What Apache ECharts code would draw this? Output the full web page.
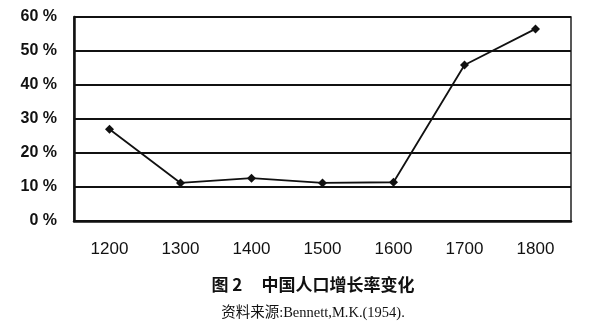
<!DOCTYPE html>
<html><head><meta charset="utf-8">
<script src="https://cdn.jsdelivr.net/npm/echarts@6/dist/echarts.min.js"></script>
<style>html,body{margin:0;padding:0;background:#fff}#c{width:600px;height:336px}</style>
</head><body><div id="c"></div>
<script>
var years = ['1200','1300','1400','1500','1600','1700','1800'];
var rates = [27, 11.2, 12.6, 11.2, 11.4, 45.9, 56.5];
var yTicks = [0,10,20,30,40,50,60];
var title = '图 2     中国人口增长率变化';
var source = '资料来源:Bennett,M.K.(1954).';

var chart = echarts.init(document.getElementById('c'));
chart.setOption({
  backgroundColor: '#fff',
  animation: false,
  graphic: [
    {type: 'text', x: 313, y: 285, style: {text: title, textAlign: 'center', textVerticalAlign: 'middle', fontFamily: 'Noto Sans CJK SC', fontSize: 17, fontWeight: 'bold', fill: '#111'}},
    {type: 'text', x: 313, y: 313, style: {text: source, textAlign: 'center', textVerticalAlign: 'middle', fontFamily: 'Liberation Serif, Noto Sans CJK SC', fontSize: 14.5, fill: '#111'}}
  ],
  grid: {left: 74, right: 29, top: 17, bottom: 115, show: true, borderColor: '#222', borderWidth: 1.5},
  xAxis: {
    type: 'category', data: years, boundaryGap: true,
    axisLine: {lineStyle: {color: '#111', width: 2.5}},
    axisTick: {inside: true, length: 5, lineStyle: {color: '#111', width: 2}},
    axisLabel: {color: '#111', fontSize: 17, fontWeight: 'normal', fontFamily: 'Liberation Sans', margin: 20}
  },
  yAxis: {
    type: 'value', min: yTicks[0], max: yTicks[yTicks.length-1], interval: 10,
    axisLine: {show: true, lineStyle: {color: '#111', width: 2.5}},
    axisTick: {show: false},
    splitLine: {lineStyle: {color: '#111', width: 2}},
    axisLabel: {color: '#111', fontSize: 16, fontWeight: 'bold', fontFamily: 'Liberation Sans', margin: 17, formatter: function(v){return v + ' %';}}
  },
  series: [{
    type: 'line', data: rates,
    symbol: 'diamond', symbolSize: 9,
    lineStyle: {color: '#111', width: 1.8},
    itemStyle: {color: '#111'}
  }]
});
</script></body></html>
